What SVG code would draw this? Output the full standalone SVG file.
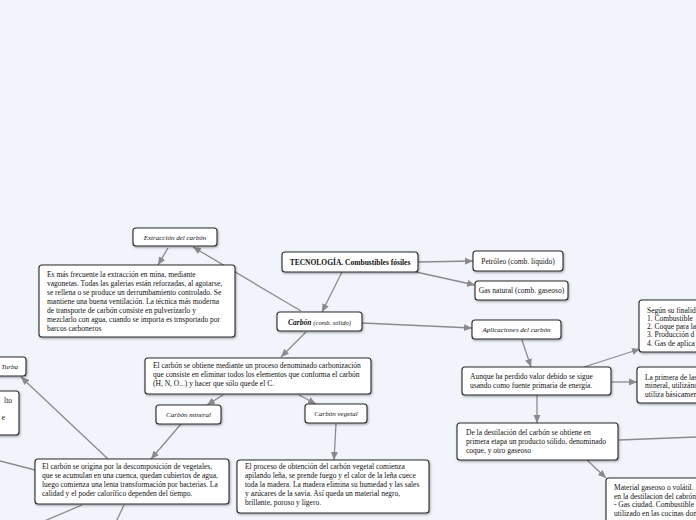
<svg xmlns="http://www.w3.org/2000/svg" width="696" height="520" viewBox="0 0 696 520">
<defs>
<style>
.bx{fill:#fff;stroke:#2a2a2a;stroke-width:1.1;filter:url(#sh)}
.t{font-family:"Liberation Serif","Times New Roman",serif;font-size:7.5px;fill:#111}
.i{font-style:italic;font-size:7px}
.c{text-anchor:middle}
.b{font-weight:bold}
.cn path{fill:none;stroke:#8a8a8e;stroke-width:1.3;marker-end:url(#ar)}
.cn path.n{marker-end:none}
</style>
<filter id="sh" x="-10%" y="-20%" width="130%" height="160%">
<feDropShadow dx="0.8" dy="1.2" stdDeviation="0.9" flood-color="#000" flood-opacity="0.35"/>
</filter>
<marker id="ar" markerUnits="userSpaceOnUse" markerWidth="9" markerHeight="8" refX="8" refY="4" orient="auto">
<path d="M0,0.5 L8,4 L0,7.5 Z" fill="#8a8a8e"/>
</marker>
</defs>
<rect width="696" height="520" fill="#f2f4fc"/>
<g class="cn">
<path d="M342,272 L322,312"/>
<path d="M418,262 L473,261"/>
<path d="M416,272 L475,285"/>
<path d="M301,311 L193,247"/>
<path d="M168,248 L158,265"/>
<path d="M362,323 L472,328"/>
<path d="M522,340 L531,367"/>
<path d="M584,367 L640,349"/>
<path d="M612,382 L637,382"/>
<path d="M537,395 L537,423"/>
<path class="n" d="M619,440 L696,437"/>
<path d="M587,460 L606,478"/>
<path d="M306,332 L281,357"/>
<path d="M223,395 L207,405"/>
<path d="M299,395 L316,404"/>
<path d="M181,424 L151,459"/>
<path d="M336,424 L334,460"/>
<path d="M108,459 L21,377"/>
<path class="n" d="M35,470 L0,461"/>
<path class="n" d="M82,505 L42,522"/>
<path class="n" d="M124,505 L116,522"/>
</g>
<g id="extraccion">
<rect class="bx" x="133" y="228" width="84" height="18" rx="3"/>
<text class="t i c" x="175" y="240">Extracción del carbón</text>
</g>
<g id="extraccion-texto">
<rect class="bx" x="39" y="265" width="196" height="72" rx="3"/>
<text class="t" x="47" y="277">Es más frecuente la extracción en mina, mediante</text>
<text class="t" x="47" y="286">vagonetas. Todas las galerias están reforzadas, al agotarse,</text>
<text class="t" x="47" y="295">se rellena o se produce un derrumbamiento controlado. Se</text>
<text class="t" x="47" y="304">mantiene una buena ventilación. La técnica más moderna</text>
<text class="t" x="47" y="313">de transporte de carbón consiste en pulverizarlo y</text>
<text class="t" x="47" y="322">mezclarlo con agua, cuando se importa es trnsportado por</text>
<text class="t" x="47" y="331">barcos carboneros</text>
</g>
<g id="tecnologia">
<rect class="bx" x="282" y="252" width="136" height="20" rx="3"/>
<text class="t b c" x="350" y="264.5">TECNOLOGÍA. Combustibles fósiles</text>
</g>
<g id="carbon">
<rect class="bx" x="277" y="312" width="85" height="19" rx="3"/>
<text class="t c" x="319.5" y="324.5"><tspan class="b" font-style="italic">Carbón</tspan> <tspan font-style="italic" font-size="6.5px">(comb. sólido)</tspan></text>
</g>
<g id="petroleo">
<rect class="bx" x="473" y="251" width="90" height="20" rx="3"/>
<text class="t c" x="518" y="263.5">Petróleo (comb. liquido)</text>
</g>
<g id="gas">
<rect class="bx" x="475" y="281" width="93" height="19" rx="3"/>
<text class="t c" x="521.5" y="293">Gas natural (comb. gaseoso)</text>
</g>
<g id="aplicaciones">
<rect class="bx" x="472" y="320" width="89" height="19" rx="3"/>
<text class="t i c" x="516.5" y="331.5">Aplicaciones del carbón</text>
</g>
<g id="segun">
<rect class="bx" x="639" y="300" width="70" height="52" rx="3"/>
<text class="t" x="647" y="312.5">Según su finalid</text>
<text class="t" x="647" y="320.8">1. Combustible</text>
<text class="t" x="647" y="329.1">2. Coque para la</text>
<text class="t" x="647" y="337.4">3. Producción d</text>
<text class="t" x="647" y="345.7">4. Gas de aplica</text>
</g>
<g id="aunque">
<rect class="bx" x="462" y="367" width="149" height="28" rx="3"/>
<text class="t" x="470" y="379">Aunque ha perdido valor debido se sigue</text>
<text class="t" x="470" y="388">usando como fuente primaria de energía.</text>
</g>
<g id="primera">
<rect class="bx" x="637" y="367" width="70" height="36" rx="3"/>
<text class="t" x="645" y="379.5">La primera de las</text>
<text class="t" x="645" y="388">mineral, utilizánd</text>
<text class="t" x="645" y="396.5">utiliza básicamen</text>
</g>
<g id="destilacion">
<rect class="bx" x="457" y="423" width="161" height="37" rx="3"/>
<text class="t" x="466" y="435">De la destilación del carbón se obtiene en</text>
<text class="t" x="466" y="444">primera etapa un producto sólido, denominado</text>
<text class="t" x="466" y="453">coque, y otro gaseoso</text>
</g>
<g id="material">
<rect class="bx" x="606" y="478" width="100" height="60" rx="3"/>
<text class="t" x="614" y="490">Material gaseoso o volátil. I</text>
<text class="t" x="614" y="498.5">en la destilacion del cabrón</text>
<text class="t" x="614" y="507">- Gas ciudad. Combustible</text>
<text class="t" x="614" y="515.5">utilizado en las cocinas don</text>
</g>
<g id="obtiene">
<rect class="bx" x="145" y="358" width="226" height="36" rx="3"/>
<text class="t" x="153" y="368">El carbón se obtiene mediante un proceso denominado carbonización</text>
<text class="t" x="153" y="377">que consiste en eliminar todos los elementos que conforma el carbón</text>
<text class="t" x="153" y="386">(H, N, O...) y hacer que sólo quede el C.</text>
</g>
<g id="mineral">
<rect class="bx" x="156" y="405" width="65" height="19" rx="3"/>
<text class="t i c" x="188.5" y="416.5">Carbón mineral</text>
</g>
<g id="vegetal">
<rect class="bx" x="305" y="404" width="62" height="19" rx="3"/>
<text class="t i c" x="336" y="415.5">Carbón vegetal</text>
</g>
<g id="origina">
<rect class="bx" x="35" y="459" width="194" height="45" rx="3"/>
<text class="t" x="42" y="469">El carbón se origina por la descomposición de vegetales,</text>
<text class="t" x="42" y="478">que se acumulan en una cuenca, quedan cubiertos de agua,</text>
<text class="t" x="42" y="487">luego comienza una lenta transformación por bacterias. La</text>
<text class="t" x="42" y="496">calidad y el poder calorífico dependen del tiempo.</text>
</g>
<g id="proceso">
<rect class="bx" x="237" y="460" width="192" height="53" rx="3"/>
<text class="t" x="245" y="469">El proceso de obtención del carbón vegetal comienza</text>
<text class="t" x="245" y="478">apilando leña, se prende fuego y el calor de la leña cuece</text>
<text class="t" x="245" y="487">toda la madera. La madera elimina su humedad y las sales</text>
<text class="t" x="245" y="496">y azúcares de la savia. Así queda un material negro,</text>
<text class="t" x="245" y="505">brillante, poroso y ligero.</text>
</g>
<g id="turba">
<rect class="bx" x="-6" y="357" width="32" height="19" rx="3"/>
<text class="t i" x="18" y="368.5" text-anchor="end">Turba</text>
</g>
<g id="izquierda">
<rect class="bx" x="-60" y="391" width="79" height="44" rx="3"/>
<text class="t" x="12" y="403" text-anchor="end">lto</text>
<text class="t" x="5" y="420" text-anchor="end">e</text>
</g>
</svg>
